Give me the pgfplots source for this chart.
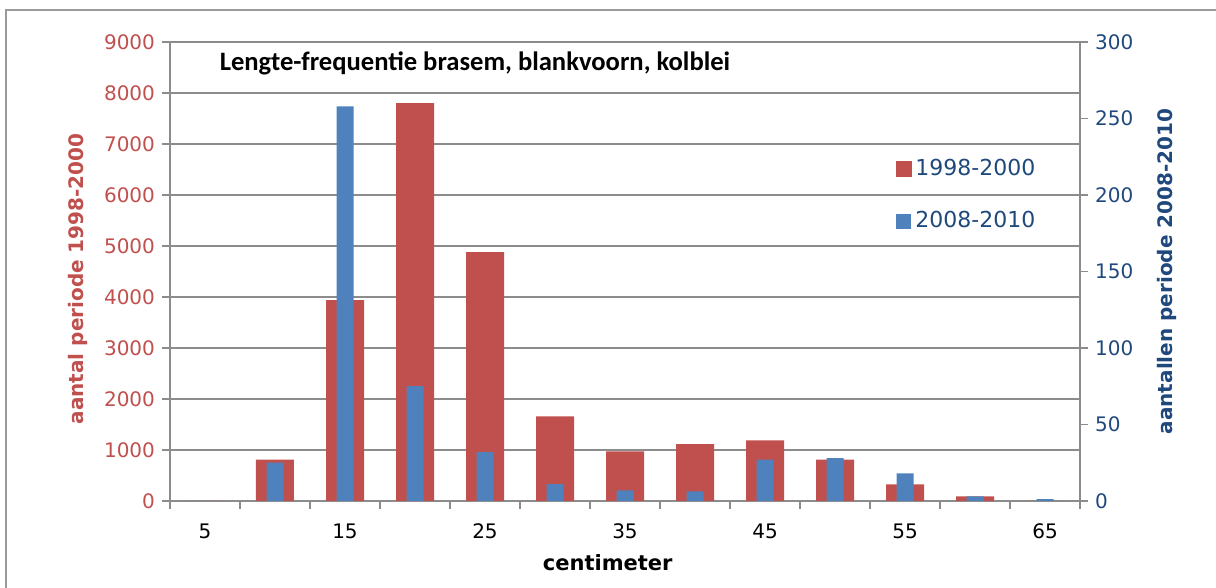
\documentclass[border=0pt]{standalone}
\usepackage{pgfplots}
\pgfplotsset{compat=1.18}
\usepackage{pgfplotstable}
\usepackage{fontspec}
\setmainfont{DejaVu Sans}
\newfontfamily\calibri{Carlito}
\definecolor{cred}{HTML}{C0504D}
\definecolor{cblue}{HTML}{4F81BD}
\definecolor{dblue}{HTML}{1F497D}
\definecolor{gridg}{HTML}{8C8C8C}
\definecolor{frameg}{HTML}{9A9A9A}

\pgfplotstableread{
x red blue
0 0 0
1 810 25
2 3940 258
3 7800 75
4 4880 32
5 1660 11
6 975 7
7 1115 6.3
8 1190 27
9 810 28
10 325 18
11 90 3
12 0 1.3
}\data

\begin{document}
\begin{tikzpicture}
\pgfplotsset{every axis/.append style={
  scale only axis, width=455pt, height=229.5pt,
  xmin=-0.5, xmax=12.5,
  /pgf/number format/assume math mode=true,
  /pgf/number format/1000 sep={},
  axis line style={gridg, line width=0.8pt},
  tick align=outside,
  major tick length=4pt,
  tick style={gridg, line width=0.8pt},
  tick label style={font=\fontsize{10}{12}\selectfont},
}}
\begin{axis}[
  ymin=0, ymax=9000, ytick={0,1000,...,9000},
  ymajorgrids, grid style={gridg, line width=0.8pt},
  xtick={-0.5,0.5,...,12.5}, xticklabels={,,,,,,,,,,,,,,,},
  extra x ticks={0,2,...,12},
  extra x tick labels={5,15,25,35,45,55,65},
  extra x tick style={major tick length=0pt, xticklabel style={yshift=-8pt}},
  tick pos=left,
  yticklabel style={cred},
  ylabel={\bfseries aantal periode 1998-2000},
  ylabel style={cred, font=\fontsize{10}{12}\selectfont, at={(axis description cs:-0.101,0.484)}, anchor=center},
  xlabel={\bfseries centimeter},
  xlabel style={font=\fontsize{10.5}{12}\selectfont, at={(axis description cs:0.481,-0.135)}, anchor=center},
]
\addplot[ybar, bar width=19pt, fill=cred, draw=none] table[x=x,y=red]{\data};
\node[anchor=west, font=\calibri\bfseries\fontsize{13.3}{15}\selectfont] at (rel axis cs:0.047,0.954) {Lengte-frequentie brasem, blankvoorn, kolblei};
\end{axis}
\begin{axis}[
  ymin=0, ymax=300, ytick={0,50,...,300},
  axis y line*=right, axis x line=none,
  yticklabel style={dblue},
  ylabel={\bfseries aantallen periode 2008-2010},
  ylabel style={dblue, font=\fontsize{10}{12}\selectfont, at={(axis description cs:1.096,0.5)}, anchor=center},
  legend style={at={(axis description cs:0.797,0.754)}, anchor=north west, draw=none, fill=none,
    font=\fontsize{11}{13}\selectfont, text=dblue, row sep=12.5pt, inner sep=0pt},
  legend cell align=left,
]
\addlegendimage{legend image code/.code={\fill[cred] (0pt,-3.75pt) rectangle (7.5pt,3.75pt);}}
\addlegendentry{1998-2000}
\addplot[ybar, bar width=8.5pt, fill=cblue, draw=none,
  legend image code/.code={\fill[cblue] (0pt,-3.75pt) rectangle (7.5pt,3.75pt);}] table[x=x,y=blue]{\data};
\addlegendentry{2008-2010}
\end{axis}
\draw[frameg, line width=1.3pt] (-82pt,-60pt) -- (-82pt,245.5pt) -- (540pt,245.5pt);
\pgfresetboundingbox
\useasboundingbox (-85pt,-43.5pt) rectangle (523pt,250.5pt);
\end{tikzpicture}
\end{document}
